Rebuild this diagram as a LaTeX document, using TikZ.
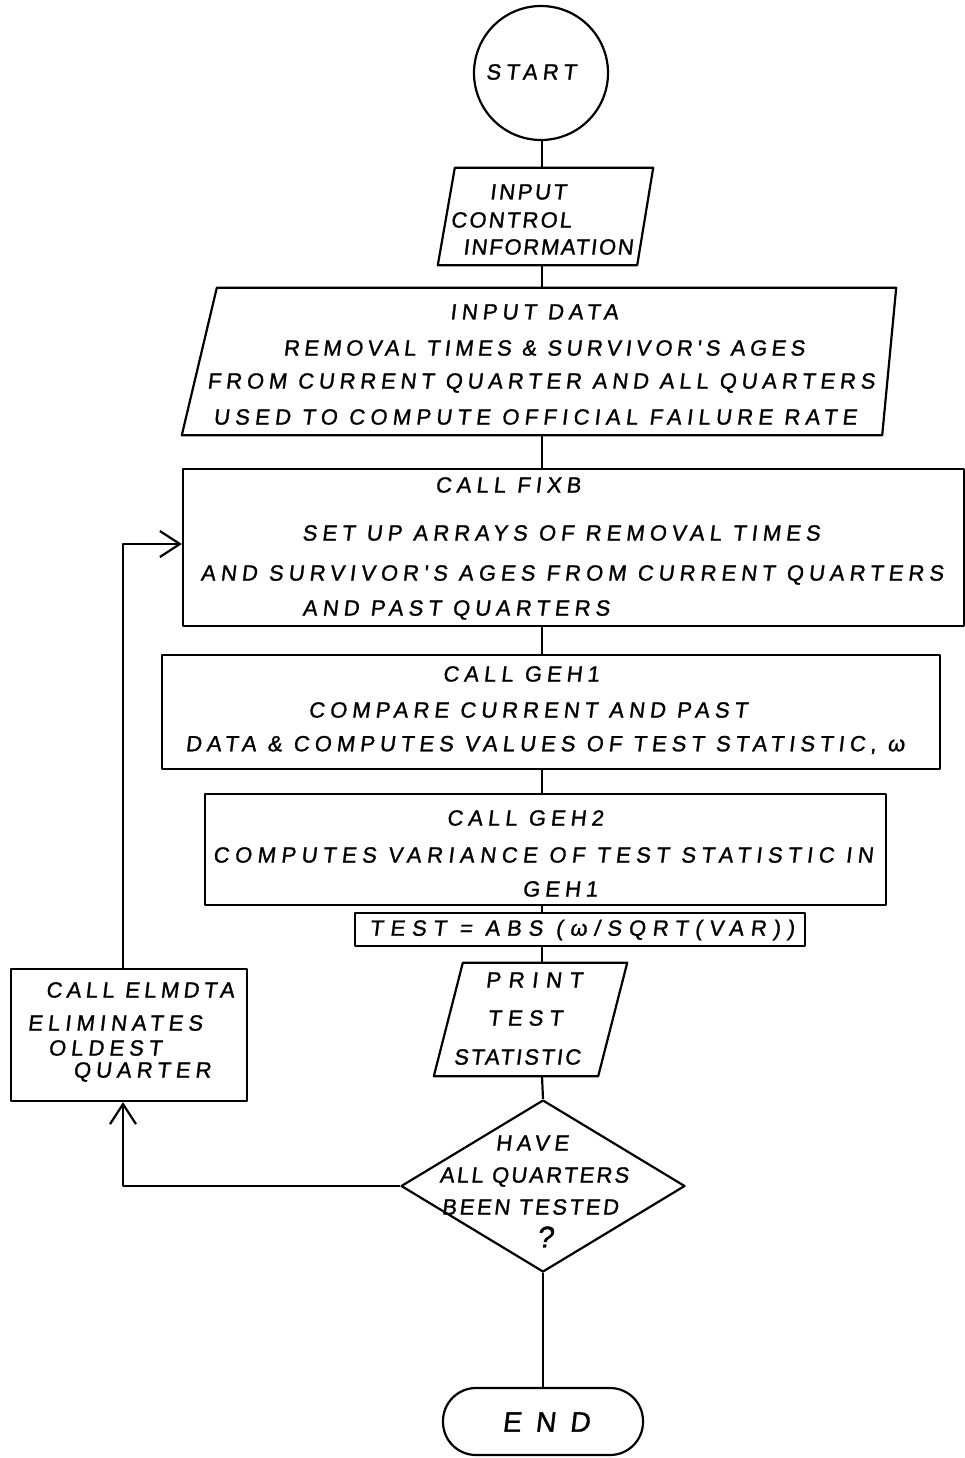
\documentclass[tikz,border=0pt]{standalone}
\usepackage{fontspec}
\newfontfamily\hand{Liberation Sans}[LetterSpace=23,FakeSlant=0.12,FakeBold=1.2]
\usetikzlibrary{shapes.geometric,arrows.meta}
\begin{document}
\begin{tikzpicture}[x=1pt,y=-1pt,
  ln/.style={line width=2.2pt, line join=round},
  box/.style={draw, ln, rectangle, inner sep=0pt},
  ghost/.style={rectangle, inner sep=0pt},
  t/.style={font=\hand\fontsize{22pt}{26pt}\selectfont, inner sep=0pt, anchor=center},
  tls/.style={t, font=\hand\fontsize{22pt}{26pt}\selectfont\addfontfeatures{LetterSpace=#1}},
  barb/.style={-{Straight Barb[length=20pt,width=26pt,line width=2.2pt]}}
]
\useasboundingbox (0,0) rectangle (965,1458);
\coordinate (col) at (542,0);

% START
\node[box, circle, minimum size=134pt] (start) at (541,73) {};
\node[t] (startT) at (531,72) {START};

% INPUT CONTROL INFORMATION (parallelogram)
\node[ghost, minimum width=215pt, minimum height=97pt] (ctl) at (545.5,216.5) {};
\draw[ln] ([xshift=17pt]ctl.north west) -- (ctl.north east) -- ([xshift=-16pt]ctl.south east) -- (ctl.south west) -- cycle;
\node[tls=12] (ctl1) at (528,192) {INPUT};
\node[tls=10] (ctl2) at (511,220) {CONTROL};
\node[tls=8] (ctl3) at (548,247) {INFORMATION};

% INPUT DATA (parallelogram)
\node[ghost, minimum width=714pt, minimum height=147pt] (data) at (539,361.5) {};
\draw[ln] ([xshift=35pt]data.north west) -- (data.north east) -- ([xshift=-14pt]data.south east) -- (data.south west) -- cycle;
\node[t] (data1) at (534,312) {INPUT DATA};
\node[tls=20] (data2) at (544,348) {REMOVAL TIMES \& SURVIVOR'S AGES};
\node[tls=22] (data3) at (541,383) {FROM CURRENT QUARTER AND ALL QUARTERS};
\node[tls=24] (data4) at (535,417) {USED TO COMPUTE OFFICIAL FAILURE RATE};

% CALL FIXB
\node[box, minimum width=781pt, minimum height=157pt] (fixb) at (573.5,547.5) {};
\node[t] (fixb1) at (508,485) {CALL FIXB};
\node[t] (fixb2) at (561,533) {SET UP ARRAYS OF REMOVAL TIMES};
\node[t] (fixb3) at (572,575) {AND SURVIVOR'S AGES FROM CURRENT QUARTERS};
\node[t] (fixb4) at (456,610) {AND PAST QUARTERS};

% CALL GEH1
\node[box, minimum width=778pt, minimum height=114pt] (geh1) at (551,712) {};
\node[t] (geh1a) at (521,674) {CALL GEH1};
\node[t] (geh1b) at (528,710) {COMPARE CURRENT AND PAST};
\node[t] (geh1c) at (545,745) {DATA \& COMPUTES VALUES OF TEST STATISTIC, ω};

% CALL GEH2
\node[box, minimum width=681pt, minimum height=111pt] (geh2) at (545.5,849.5) {};
\node[t] (geh2a) at (525,818) {CALL GEH2};
\node[tls=25] (geh2b) at (543,855) {COMPUTES VARIANCE OF TEST STATISTIC IN};
\node[t] (geh2c) at (560,889) {GEH1};

% TEST
\node[box, minimum width=450pt, minimum height=33pt] (test) at (580,929.5) {};
\node[tls=31] (testT) at (582,930) {TEST = ABS (ω/SQRT(VAR))};

% PRINT TEST STATISTIC (parallelogram)
\node[ghost, minimum width=193pt, minimum height=113pt] (print) at (530.5,1019.5) {};
\draw[ln] ([xshift=29pt]print.north west) -- (print.north east) -- ([xshift=-29pt]print.south east) -- (print.south west) -- cycle;
\node[tls=35] (print1) at (534,980) {PRINT};
\node[tls=28] (print2) at (525,1018) {TEST};
\node[tls=10] (print3) at (517,1057) {STATISTIC};

% decision
\node[draw, ln, diamond, minimum width=284pt, minimum height=172pt, inner sep=0pt] (dec) at (543,1186) {};
\node[tls=22] (dec1) at (532,1143) {HAVE};
\node[tls=10] (dec2) at (534,1177) {ALL QUARTERS};
\node[tls=12] (dec3) at (530,1207) {BEEN TESTED};
\node[t, font=\hand\fontsize{30pt}{34pt}\selectfont] (dec4) at (545,1237) {?};

% END
\node[box, rounded corners=33pt, minimum width=200pt, minimum height=67pt] (end) at (543,1421.5) {};
\node[t, font=\hand\fontsize{28pt}{32pt}\selectfont] (endT) at (546,1422) {E N D};

% CALL ELMDTA
\node[box, minimum width=236pt, minimum height=132pt] (elm) at (129,1035) {};
\node[tls=20] (elm1) at (140,990) {CALL ELMDTA};
\node[t] (elm2) at (115,1023) {ELIMINATES};
\node[t] (elm3) at (105,1048) {OLDEST};
\node[t] (elm4) at (142,1072) {QUARTER};

% connectors
\draw[ln] (col |- start.south) -- (col |- ctl.north);
\draw[ln] (col |- ctl.south) -- (col |- data.north);
\draw[ln] (col |- data.south) -- (col |- fixb.north);
\draw[ln] (col |- fixb.south) -- (col |- geh1.north);
\draw[ln] (col |- geh1.south) -- (col |- geh2.north);
\draw[ln] (col |- geh2.south) -- (col |- test.north);
\draw[ln] (col |- test.south) -- (col |- print.north);
\draw[ln] (col |- print.south) -- (dec.north);
\draw[ln] (dec.south) -- (end.north);

\coordinate (lp1) at (123,1186);
\coordinate (lp2) at (123,544);
\draw[ln, barb] (dec.west) -- (lp1) -- (lp1 |- elm.south);
\draw[ln, barb] (lp1 |- elm.north) -- (lp2) -- (lp2 -| fixb.west);
\end{tikzpicture}
\end{document}
